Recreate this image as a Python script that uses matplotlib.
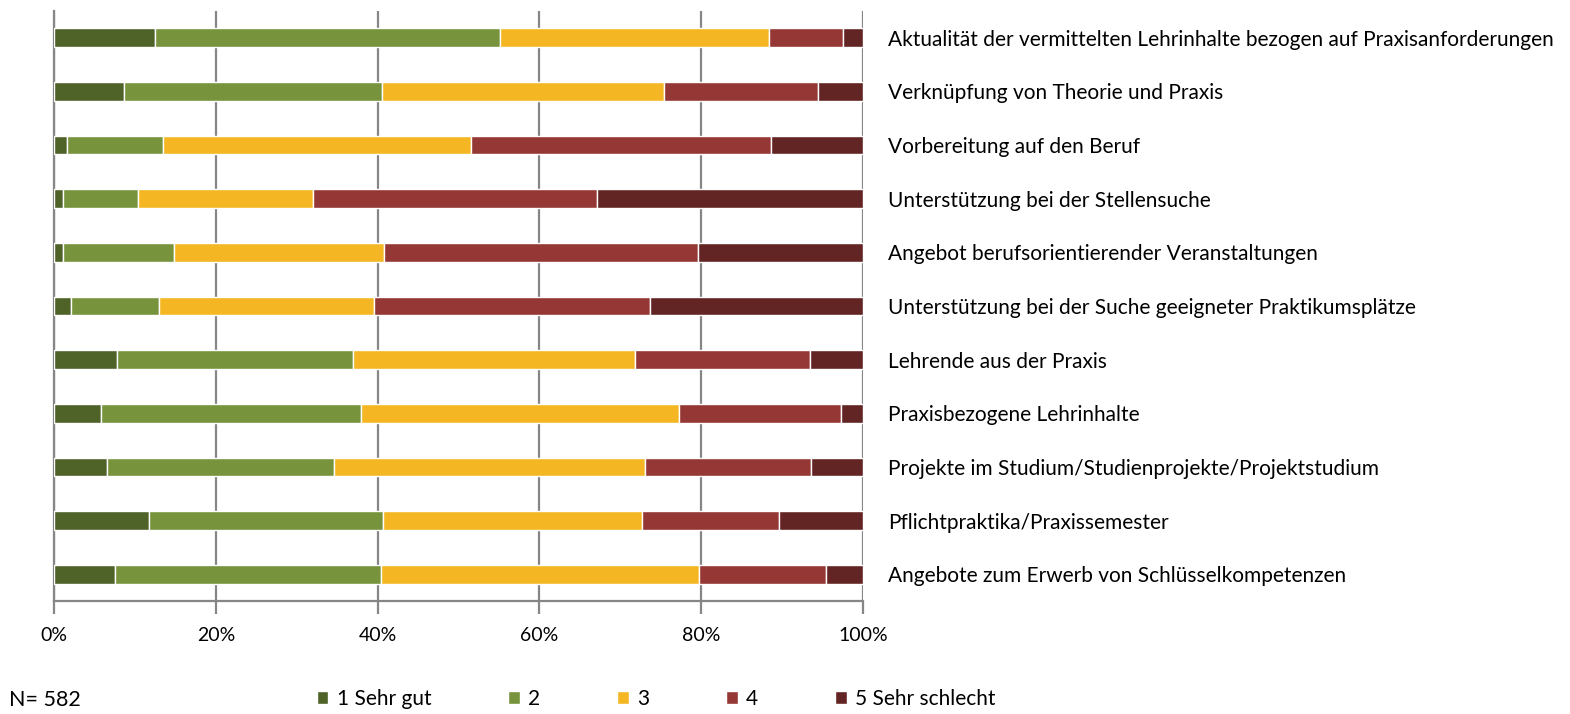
import matplotlib.pyplot as plt
import numpy as np

plt.rcParams["font.family"] = ["Lato", "DejaVu Sans"]

# items, bottom to top as drawn
items = [
    "Angebote zum Erwerb von Schlüsselkompetenzen",
    "Pflichtpraktika/Praxissemester",
    "Projekte im Studium/Studienprojekte/Projektstudium",
    "Praxisbezogene Lehrinhalte",
    "Lehrende aus der Praxis",
    "Unterstützung bei der Suche geeigneter Praktikumsplätze",
    "Angebot berufsorientierender Veranstaltungen",
    "Unterstützung bei der Stellensuche",
    "Vorbereitung auf den Beruf",
    "Verknüpfung von Theorie und Praxis",
    "Aktualität der vermittelten Lehrinhalte bezogen auf Praxisanforderungen",
]

grades = ["1 Sehr gut", "2", "3", "4", "5 Sehr schlecht"]
colors = ["#4F6228", "#77933C", "#F4B723", "#953735", "#632523"]

# percentages per grade, same order as items
g1 = [7.5, 11.7, 6.6, 5.8, 7.8, 2.1, 1.1, 1.1, 1.6, 8.7, 12.5]
g2 = [32.9, 29.0, 28.0, 32.1, 29.2, 10.9, 13.7, 9.3, 11.9, 31.8, 42.6]
g3 = [39.3, 32.0, 38.5, 39.4, 34.8, 26.6, 26.0, 21.6, 38.0, 34.9, 33.3]
g4 = [15.7, 16.9, 20.5, 20.0, 21.6, 34.1, 38.8, 35.1, 37.1, 19.0, 9.1]
g5 = [4.6, 10.4, 6.4, 2.7, 6.6, 26.3, 20.4, 32.9, 11.4, 5.6, 2.5]

n_label = "N= 582"

fig = plt.figure(figsize=(15.7, 7.14), dpi=100)
ax = fig.add_axes([0.0344, 0.1583, 0.5153, 0.8263])

y = np.arange(len(items))
left = np.zeros(len(items))
for vals, name, col in zip([g1, g2, g3, g4, g5], grades, colors):
    vals = np.array(vals)
    ax.barh(y, vals, left=left, height=0.35, color=col, edgecolor="white",
            linewidth=1.0, label=name, zorder=3)
    left += vals

ax.set_xlim(0, 100)
ax.set_ylim(-0.5, len(items) - 0.5)
ax.set_xticks(np.arange(0, 101, 20))
ax.set_xticklabels([f"{v}%" for v in range(0, 101, 20)], fontsize=14)
ax.xaxis.grid(True, color="#868686", linewidth=1.6, zorder=0)
ax.tick_params(axis="x", direction="out", length=9, width=1.6,
               color="#868686", pad=10)

ax.yaxis.tick_right()
ax.set_yticks(y)
ax.set_yticklabels(items, fontsize=15)
ax.tick_params(axis="y", length=0, pad=18)

for s in ("top", "right"):
    ax.spines[s].set_visible(False)
for s in ("left", "bottom"):
    ax.spines[s].set_color("#868686")
    ax.spines[s].set_linewidth(1.6)

fig.text(0.006, 0.020, n_label, fontsize=15.5, ha="left", va="center")
fig.legend(loc="center", bbox_to_anchor=(0.418, 0.021), ncol=5,
           frameon=False, fontsize=15, handlelength=0.55, handleheight=0.55,
           handletextpad=0.4, columnspacing=3.7)

fig.savefig("out.png", dpi=100)
